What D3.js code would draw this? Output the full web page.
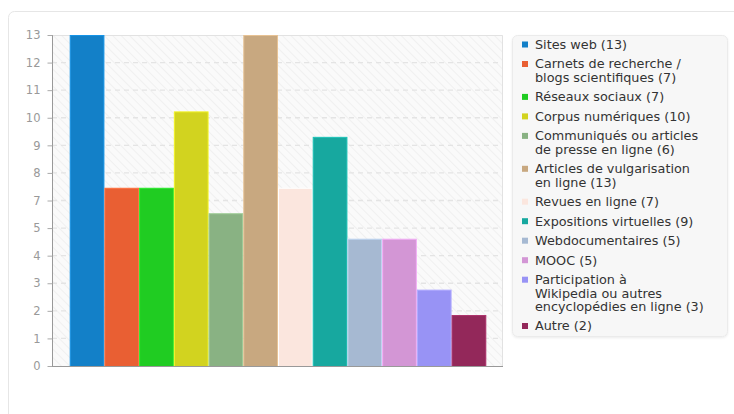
<!DOCTYPE html>
<html><head><meta charset="utf-8">
<script src="https://cdn.jsdelivr.net/npm/d3@7"></script>
<style>
html,body{margin:0;padding:0;background:#fff;}
svg{display:block;font-family:"DejaVu Sans",sans-serif;}
</style></head>
<body>
<svg id="chart" width="734" height="414"></svg>
<script>
const categories = [
  ["Sites web (13)"],
  ["Carnets de recherche /", "blogs scientifiques (7)"],
  ["Réseaux sociaux (7)"],
  ["Corpus numériques (10)"],
  ["Communiqués ou articles", "de presse en ligne (6)"],
  ["Articles de vulgarisation", "en ligne (13)"],
  ["Revues en ligne (7)"],
  ["Expositions virtuelles (9)"],
  ["Webdocumentaires (5)"],
  ["MOOC (5)"],
  ["Participation à", "Wikipedia ou autres", "encyclopédies en ligne (3)"],
  ["Autre (2)"]
];
const values = [13, 7, 7, 10, 6, 13, 7, 9, 5, 5, 3, 2];
const colors = ["#1380c8", "#e95f33", "#20cc22", "#d2d31f", "#89b283", "#c8a880",
                "#fbe6de", "#17a89f", "#a6b9d2", "#d396d5", "#9893f5", "#93285a"];
const yTickLabels = ["0","1","2","3","4","5","7","8","9","10","11","12","13"];
const yMax = 13;

const svg = d3.select("#chart");
const defs = svg.append("defs");
const pat = defs.append("pattern").attr("id","hatch").attr("patternUnits","userSpaceOnUse")
  .attr("width",6).attr("height",6).attr("patternTransform","rotate(-45)");
pat.append("rect").attr("width",6).attr("height",6).attr("fill","#fafafa");
pat.append("line").attr("x1",0).attr("y1",0).attr("x2",0).attr("y2",6)
  .attr("stroke","#f0f0f0").attr("stroke-width",2);
const sh = defs.append("filter").attr("id","shadow").attr("x","-5%").attr("y","-5%").attr("width","110%").attr("height","110%");
sh.append("feDropShadow").attr("dx",0).attr("dy",1).attr("stdDeviation",1).attr("flood-color","#000").attr("flood-opacity",0.08);

// card
svg.append("rect").attr("x",8.5).attr("y",11.5).attr("width",740).attr("height",420)
  .attr("rx",6).attr("fill","#fff").attr("stroke","#e6e6e6");

const m = {left:52, right:503, top:35, bottom:366};
const x = d3.scaleBand().domain([0]).range([m.left, m.right]).paddingInner(0).paddingOuter(0.04);
const xb = d3.scaleBand().domain(d3.range(values.length)).range([x(0)+1, x(0)+x.bandwidth()]).padding(0);
const y = d3.scaleLinear().domain([0, yMax]).range([m.bottom, m.top]);

svg.append("rect").attr("x",m.left).attr("y",m.top).attr("width",m.right-m.left).attr("height",m.bottom-m.top)
  .attr("fill","url(#hatch)");

const tickVals = yTickLabels.map((_, i) => i * yMax / (yTickLabels.length - 1));

// grid
svg.append("g").selectAll("line").data(tickVals.slice(1, -1)).join("line")
  .attr("x1",m.left).attr("x2",m.right).attr("y1",d=>y(d)).attr("y2",d=>y(d))
  .attr("stroke","#e4e4e4").attr("stroke-width",1.3).attr("stroke-dasharray","5,4");

// border top/right
svg.append("path").attr("d",`M${m.left},${m.top+0.5}H${m.right-0.5}V${m.bottom}`)
  .attr("fill","none").attr("stroke","#e2e2e2");

// bars
svg.append("g").selectAll("rect").data(values).join("rect")
  .attr("x",(d,i)=>xb(i)+0.5).attr("width",xb.bandwidth()-1)
  .attr("y",d=>y(d)+0.5).attr("height",d=>y(0)-y(d))
  .attr("fill",(d,i)=>colors[i])
  .attr("stroke",(d,i)=>d3.color(colors[i]).brighter(0.4))
  .attr("stroke-width",1);

// y axis
const yAxis = d3.axisLeft(y).tickValues(tickVals).tickSize(5).tickPadding(7)
  .tickFormat((d,i)=>yTickLabels[i]);
const ga = svg.append("g").attr("transform",`translate(${m.left+0.5},0)`).call(yAxis);
ga.select(".domain").attr("stroke","#999").attr("d",`M-0,${m.top}V${m.bottom+0.5}`);
ga.selectAll(".tick line").attr("stroke","#aaa");
ga.selectAll(".tick text").attr("fill","#999").style("font-size","11.5px").style("font-family","DejaVu Sans");

// x axis line
svg.append("line").attr("x1",m.left).attr("x2",m.right).attr("y1",m.bottom+0.5).attr("y2",m.bottom+0.5)
  .attr("stroke","#999");

// legend
const lg = svg.append("g");
lg.append("rect").attr("x",512.5).attr("y",35.5).attr("width",215).attr("height",301)
  .attr("rx",5).attr("fill","#f7f7f7").attr("stroke","#ebebeb").attr("filter","url(#shadow)");
const lineH = 13.4, itemGap = 19.5;
let cy = 44.5;
categories.forEach((lines, i) => {
  const g = lg.append("g");
  g.append("rect").attr("x",522).attr("y",cy-3).attr("width",6).attr("height",6).attr("fill",colors[i]);
  lines.forEach((ln, j) => {
    g.append("text").attr("x",535).attr("y",cy + j*lineH).attr("dy","0.35em")
      .attr("fill","#333").style("font-size","12.8px").text(ln);
  });
  cy += itemGap + (lines.length - 1) * lineH;
});
</script>
</body></html>
